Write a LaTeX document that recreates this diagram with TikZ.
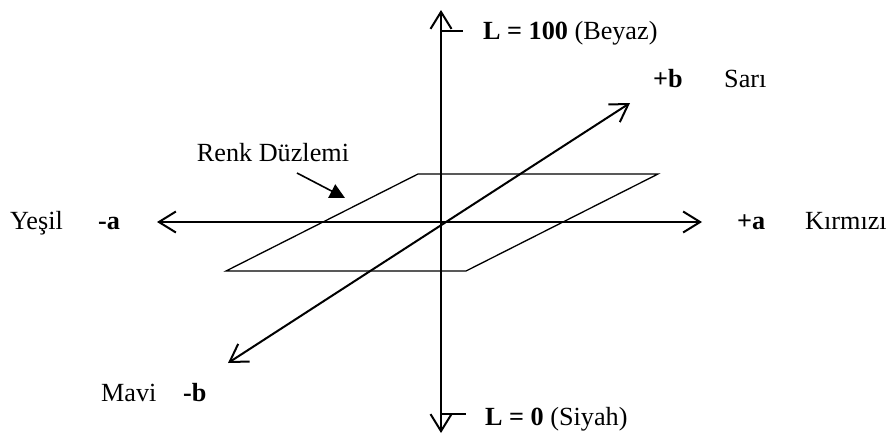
\documentclass[tikz,border=0pt]{standalone}
\usepackage{fontspec}
\setmainfont{Liberation Serif}
\usetikzlibrary{arrows.meta}
\begin{document}
\begin{tikzpicture}[x=1pt,y=-1pt,
  lbl/.style={anchor=base west,inner sep=0pt,font=\fontsize{26.2}{30}\selectfont},
  axis/.style={line width=2pt,{Straight Barb[length=17pt,width=21pt]}-{Straight Barb[length=17pt,width=21pt]}},
  plane/.style={line width=1.3pt,line join=miter},
  tick/.style={line width=1.5pt},
  pointer/.style={line width=1.6pt,-{Triangle[length=15pt,width=15pt]}}]
\useasboundingbox (0,0) rectangle (890,437);
% axis end points
\coordinate (Ltop) at (441,10);
\coordinate (Lbot) at (441,433);
\coordinate (aneg) at (157,222);
\coordinate (apos) at (702,222);
\coordinate (bneg) at (228,363);
\coordinate (bpos) at (630,103);
% plane corners
\coordinate (p1) at (226,271);
\coordinate (p2) at (418,174);
\coordinate (p3) at (658,174);
\coordinate (p4) at (466,271);
\draw[plane] (p1) -- (p2) -- (p3) -- (p4) -- cycle;
% axes
\draw[axis] (Lbot) -- (Ltop);
\draw[axis] (aneg) -- (apos);
\draw[axis] (bneg) -- (bpos);
% ticks
\coordinate (t1a) at (441,31);
\coordinate (t1b) at (463,31);
\coordinate (t2a) at (441,414);
\coordinate (t2b) at (466,414);
\draw[tick] (t1a) -- (t1b);
\draw[tick] (t2a) -- (t2b);
% labels
\node[lbl] (Lhigh) at (483,39) {\textbf{L = 100} (Beyaz)};
\node[lbl] (Llow) at (485,425) {\textbf{L = 0} (Siyah)};
\node[lbl] (bp) at (653,87) {\textbf{+b}};
\node[lbl] (sari) at (724,87) {Sarı};
\node[lbl] (yesil) at (10,229) {Yeşil};
\node[lbl] (an) at (98,229) {\textbf{-a}};
\node[lbl] (ap) at (737,229) {\textbf{+a}};
\node[lbl] (kirmizi) at (805,229) {Kırmızı};
\node[lbl] (mavi) at (101,401) {Mavi};
\node[lbl] (bn) at (183,401) {\textbf{-b}};
\node[lbl,anchor=base] (renk) at (273,161) {Renk Düzlemi};
\coordinate (rs) at (297,173);
\coordinate (re) at (345,198);
\draw[pointer] (rs) -- (re);
\end{tikzpicture}
\end{document}
